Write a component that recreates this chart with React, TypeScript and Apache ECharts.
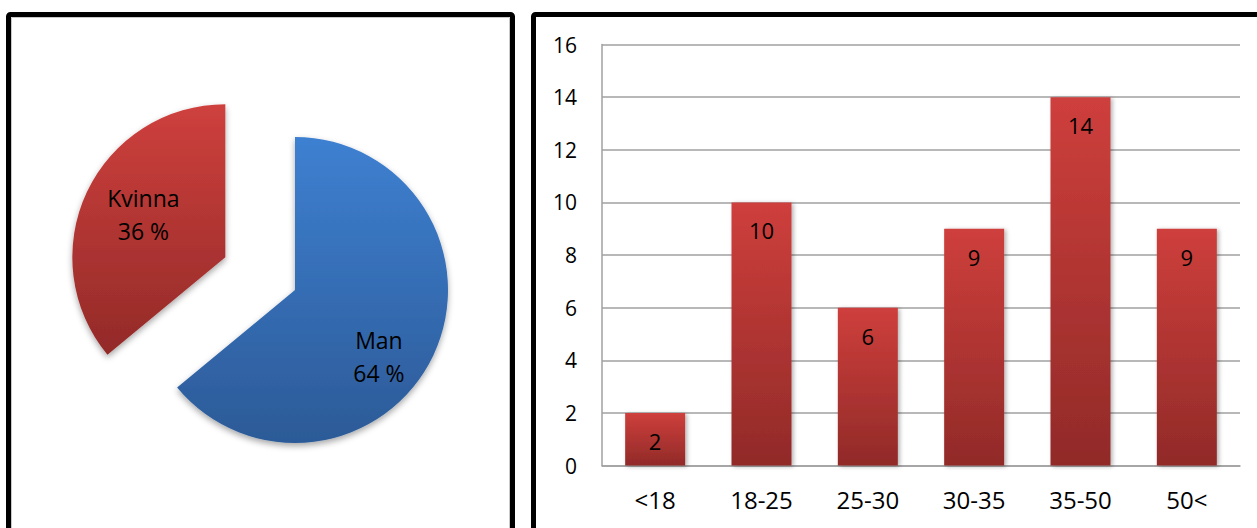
import React, { useEffect, useRef } from "react";
import * as echarts from "echarts";

const pieNames = ["Man", "Kvinna"];
const pieValues = [64, 36];
const pieLabels = ["Man\n64 %", "Kvinna\n36 %"];

const ageCategories = ["<18", "18-25", "25-30", "30-35", "35-50", "50<"];
const ageCounts = [2, 10, 6, 9, 14, 9];
const yTicks = { min: 0, max: 16, interval: 2 };

const FONT = "'Open Sans', 'Liberation Sans', sans-serif";

export default function App() {
  const ref = useRef<HTMLDivElement>(null);
  useEffect(() => {
    if (!ref.current) return;
    const chart = echarts.init(ref.current, null, { renderer: "svg" });
    const grad = (a: string, b: string) =>
      new echarts.graphic.LinearGradient(0, 0, 0, 1, [
        { offset: 0, color: a },
        { offset: 1, color: b },
      ]);
    const pieColors = [grad("#3e80d1", "#2c5a97"), grad("#ce403d", "#932a28")];
    const labelShift = [
      { dx: 12, dy: 33 },
      { dx: -10, dy: -9 },
    ];
    chart.setOption({
      animation: false,
      backgroundColor: "#ffffff",
      textStyle: { fontFamily: FONT },
      graphic: [
        {
          type: "rect",
          shape: { x: 8.5, y: 14.5, width: 504, height: 600, r: 2 },
          style: { fill: "none", stroke: "#000", lineWidth: 5 },
          z: 10,
        },
        {
          type: "rect",
          shape: { x: 11.5, y: 17.5, width: 498, height: 600 },
          style: { fill: "none", stroke: "#c8c8c8", lineWidth: 1 },
          z: 10,
        },
        {
          type: "rect",
          shape: { x: 533.5, y: 14.5, width: 800, height: 600, r: 2 },
          style: { fill: "none", stroke: "#000", lineWidth: 5 },
          z: 10,
        },
      ],
      grid: { left: 602, right: 17, top: 44.5, bottom: 62.5 },
      xAxis: {
        type: "category",
        data: ageCategories,
        axisLine: { lineStyle: { color: "#a0a0a0", width: 1.5 } },
        axisTick: { show: false },
        axisLabel: { color: "#000", fontSize: 24, margin: 22, fontFamily: FONT },
      },
      yAxis: {
        type: "value",
        min: yTicks.min,
        max: yTicks.max,
        interval: yTicks.interval,
        axisLine: { show: true, lineStyle: { color: "#a0a0a0", width: 1.5 } },
        axisTick: { show: false },
        splitLine: { lineStyle: { color: "#a0a0a0", width: 1.5 } },
        axisLabel: { color: "#000", fontSize: 21, margin: 25, fontFamily: FONT },
      },
      series: [
        {
          type: "pie",
          center: [295, 290],
          radius: 153,
          startAngle: 90,
          clockwise: true,
          selectedMode: "single",
          selectedOffset: 77,
          silent: true,
          avoidLabelOverlap: false,
          labelLine: { show: false },
          label: {
            show: true,
            position: "inside",
            color: "#000",
            fontSize: 23,
            lineHeight: 33,
            fontFamily: FONT,
            formatter: (p: any) => pieLabels[p.dataIndex],
          },
          labelLayout: (p: any) => labelShift[p.dataIndex],
          itemStyle: {
            shadowBlur: 6,
            shadowOffsetY: 3,
            shadowColor: "rgba(0,0,0,0.35)",
          },
          data: pieNames.map((n, i) => ({
            name: n,
            value: pieValues[i],
            selected: i === 1,
            itemStyle: { color: pieColors[i] },
            select: { itemStyle: { color: pieColors[i] } },
          })),
        },
        {
          type: "bar",
          data: ageCounts,
          barWidth: 60,
          silent: true,
          itemStyle: {
            color: grad("#ce3f3c", "#912a28"),
            shadowBlur: 4,
            shadowOffsetX: 2,
            shadowOffsetY: 1,
            shadowColor: "rgba(0,0,0,0.3)",
          },
          label: {
            show: true,
            position: "insideTop",
            distance: 17,
            color: "#000",
            fontSize: 22,
            fontFamily: FONT,
          },
        },
      ],
    });
    return () => chart.dispose();
  }, []);
  return (
    <div
      ref={ref}
      style={{ position: "fixed", left: 0, top: 0, width: 1257, height: 528 }}
    />
  );
}
